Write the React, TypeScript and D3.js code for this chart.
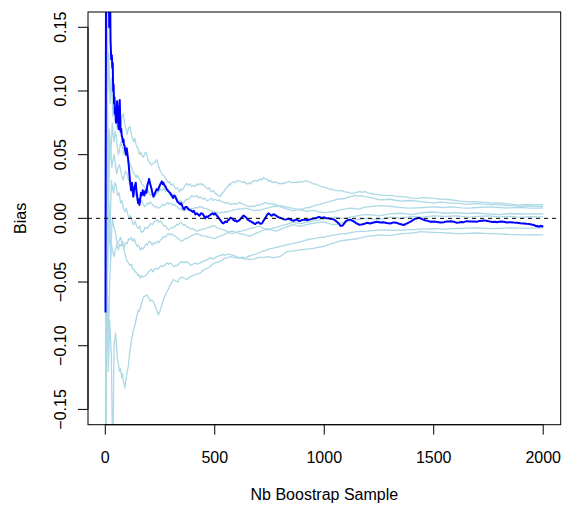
import React from "react";
import * as d3 from "d3";

// ---- data ----
const xTicks = [0, 500, 1000, 1500, 2000];
const yTicks = [-0.15, -0.1, -0.05, 0, 0.05, 0.1, 0.15];
const xLabel = "Nb Boostrap Sample";
const yLabel = "Bias";
const nRange = [1, 2000];
const yLimits = [-0.15, 0.15];

// bias path of the main estimate (dark blue)
const mainSeries: [number, number][] = [
  [1, -0.074], [2, 0.05], [4, 0.25], [14, 0.22], [18, 0.15], [21, 0.2], [24, 0.14], [27, 0.125],
  [30, 0.128], [32, 0.118], [34, 0.122], [36, 0.1], [38, 0.105], [40, 0.09], [42, 0.095], [44, 0.082],
  [46, 0.086], [48, 0.076], [50, 0.075], [52, 0.085], [54, 0.092], [56, 0.08], [58, 0.088], [60, 0.072],
  [62, 0.07], [64, 0.085], [66, 0.093], [68, 0.078], [70, 0.068], [73, 0.07], [75, 0.065], [78, 0.063],
  [80, 0.06], [83, 0.062], [85, 0.058], [88, 0.057], [90, 0.054], [93, 0.052], [95, 0.05], [98, 0.055],
  [100, 0.052], [103, 0.048], [105, 0.045], [108, 0.04], [110, 0.035], [113, 0.029], [116, 0.025],
  [118, 0.022], [120, 0.026], [122, 0.028], [125, 0.022], [128, 0.017], [130, 0.02], [133, 0.024],
  [136, 0.026], [139, 0.028], [142, 0.022], [145, 0.018], [148, 0.014], [150, 0.012], [153, 0.015],
  [156, 0.0105], [160, 0.016], [163, 0.02], [167, 0.018], [171, 0.022], [175, 0.02], [178, 0.018],
  [182, 0.021], [185, 0.022], [188, 0.02], [192, 0.026], [196, 0.028], [200, 0.031], [205, 0.027],
  [210, 0.024], [215, 0.02], [220, 0.017], [225, 0.019], [230, 0.021], [235, 0.023], [240, 0.022],
  [247, 0.025], [252, 0.027], [258, 0.029], [262, 0.027], [265, 0.028], [270, 0.026], [275, 0.025],
  [280, 0.023], [285, 0.022], [290, 0.021], [296, 0.02], [303, 0.018], [310, 0.016], [315, 0.018],
  [320, 0.017], [325, 0.015], [330, 0.013], [336, 0.012], [342, 0.011], [346, 0.012], [350, 0.0105],
  [355, 0.008], [360, 0.007], [366, 0.009], [372, 0.009], [380, 0.007], [387, 0.0065], [393, 0.006],
  [400, 0.005], [405, 0.006], [411, 0.003], [418, 0.004], [424, 0.003], [430, 0.002], [437, 0.004],
  [445, 0.0035], [450, 0.002], [456, 0.0], [462, 0.0015], [468, 0.001], [474, 0.002], [479, 0.0026],
  [485, 0.0035], [490, 0.004], [496, 0.003], [501, 0.004], [508, 0.0025], [515, 0.001], [521, -0.0005],
  [528, -0.002], [534, -0.0035], [540, -0.004], [548, -0.0025], [555, -0.003], [560, -0.0015],
  [565, -0.001], [572, 0.0005], [578, 0.0], [584, -0.001], [590, -0.002], [596, -0.0015], [601, -0.0026],
  [608, -0.002], [615, -0.001], [620, 0.0], [625, 0.001], [632, 0.0022], [639, 0.0013], [645, 0.0005],
  [650, -0.001], [660, -0.002], [670, -0.003], [677, -0.0038], [684, -0.0045], [692, -0.0035],
  [700, -0.003], [708, -0.0042], [715, -0.004], [722, -0.002], [730, 0.0], [738, 0.0025], [745, 0.004],
  [752, 0.003], [760, 0.002], [768, 0.0032], [776, 0.0026], [783, 0.0018], [790, 0.001], [798, 0.0005],
  [806, 0.0], [815, -0.0008], [825, -0.001], [835, -0.0002], [844, -0.0008], [852, -0.0015], [860, -0.002],
  [868, -0.0012], [875, -0.001], [882, -0.0018], [890, -0.002], [900, -0.0012], [910, -0.001],
  [922, -0.0015], [936, -0.0008], [948, -0.0002], [960, 0.0], [970, 0.0008], [980, 0.001], [988, 0.0002],
  [997, 0.0008], [1008, 0.0003], [1020, 0.0], [1032, -0.0005], [1043, -0.0008], [1052, -0.0018],
  [1060, -0.003], [1068, -0.0045], [1075, -0.006], [1080, -0.0058], [1085, -0.0055], [1092, -0.0038],
  [1100, -0.002], [1110, -0.0012], [1119, -0.001], [1130, -0.002], [1140, -0.003], [1150, -0.0042],
  [1160, -0.005], [1170, -0.0048], [1180, -0.0045], [1195, -0.0035], [1210, -0.004], [1225, -0.0032],
  [1241, -0.0026], [1255, -0.0032], [1270, -0.003], [1285, -0.0036], [1302, -0.004], [1316, -0.0032],
  [1330, -0.0035], [1346, -0.0045], [1363, -0.0052], [1376, -0.0042], [1390, -0.003], [1400, -0.002],
  [1408, -0.001], [1416, -0.0003], [1425, 0.0], [1432, 0.0005], [1439, 0.0], [1450, -0.0008],
  [1460, -0.0015], [1472, -0.002], [1485, -0.0026], [1500, -0.0024], [1515, -0.0028], [1530, -0.0032],
  [1546, -0.003], [1558, -0.0024], [1570, -0.0025], [1580, -0.0022], [1591, -0.0026], [1603, -0.0034],
  [1615, -0.0032], [1626, -0.0028], [1637, -0.003], [1650, -0.0022], [1665, -0.0025], [1680, -0.0024],
  [1698, -0.0026], [1710, -0.002], [1720, -0.0018], [1732, -0.0016], [1744, -0.002], [1757, -0.0025],
  [1770, -0.0028], [1780, -0.0026], [1790, -0.003], [1805, -0.0025], [1820, -0.0027], [1835, -0.0032],
  [1851, -0.003], [1865, -0.0033], [1880, -0.0035], [1895, -0.0038], [1911, -0.004], [1923, -0.0043],
  [1935, -0.0045], [1946, -0.0048], [1957, -0.0052], [1964, -0.0058], [1970, -0.0062], [1975, -0.006],
  [1980, -0.0066], [1985, -0.0062], [1990, -0.0058], [1995, -0.0064], [2000, -0.006],
];

// bootstrap replicate paths (light blue)
const repA: [number, number][] = [
  [1, 0.02], [3, 0.25], [9, 0.2], [12, 0.1], [16, 0.13], [22, 0.09], [28, 0.11], [35, 0.08], [40, 0.088],
  [45, 0.085], [50, 0.076], [55, 0.07], [60, 0.074], [65, 0.078], [70, 0.072], [76, 0.08], [82, 0.082],
  [88, 0.075], [95, 0.07], [100, 0.066], [106, 0.071], [113, 0.072], [120, 0.065], [125, 0.062],
  [130, 0.06], [135, 0.063], [140, 0.058], [145, 0.056], [150, 0.055], [156, 0.05], [162, 0.052],
  [168, 0.049], [174, 0.048], [180, 0.051], [185, 0.052], [190, 0.05], [196, 0.045], [203, 0.044],
  [210, 0.042], [218, 0.043], [226, 0.044], [235, 0.046], [240, 0.043], [247, 0.039], [255, 0.036],
  [262, 0.034], [270, 0.033], [276, 0.031], [281, 0.03], [288, 0.028], [294, 0.029], [300, 0.026],
  [308, 0.027], [315, 0.025], [322, 0.023], [330, 0.024], [338, 0.021], [345, 0.023], [350, 0.022],
  [358, 0.024], [365, 0.026], [372, 0.0275], [380, 0.026], [387, 0.027], [395, 0.025], [403, 0.026],
  [410, 0.025], [418, 0.027], [425, 0.026], [433, 0.0277], [440, 0.026], [447, 0.027], [455, 0.025],
  [460, 0.024], [468, 0.023], [475, 0.024], [480, 0.022], [488, 0.021], [495, 0.022], [500, 0.02],
  [508, 0.019], [516, 0.018], [524, 0.017], [530, 0.019], [537, 0.02], [545, 0.022], [552, 0.024],
  [560, 0.025], [565, 0.027], [570, 0.026], [578, 0.028], [585, 0.0287], [595, 0.028], [605, 0.03],
  [612, 0.029], [620, 0.029], [628, 0.028], [636, 0.029], [643, 0.027], [650, 0.027], [658, 0.028],
  [665, 0.027], [671, 0.029], [677, 0.029], [685, 0.03], [692, 0.029], [700, 0.03], [707, 0.031],
  [715, 0.03], [722, 0.032], [730, 0.031], [738, 0.031], [746, 0.029], [754, 0.03], [762, 0.028],
  [770, 0.029], [778, 0.028], [786, 0.0285], [793, 0.027], [799, 0.0275], [807, 0.027], [814, 0.028],
  [821, 0.0275], [830, 0.0285], [840, 0.029], [850, 0.028], [860, 0.028], [870, 0.0285], [880, 0.028],
  [890, 0.029], [900, 0.0285], [913, 0.0295], [926, 0.029], [940, 0.028], [950, 0.027], [962, 0.0268],
  [973, 0.026], [985, 0.025], [998, 0.0245], [1010, 0.024], [1020, 0.023], [1035, 0.023], [1050, 0.022],
  [1065, 0.0215], [1078, 0.022], [1090, 0.021], [1103, 0.0205], [1115, 0.02], [1127, 0.0196],
  [1140, 0.02], [1150, 0.0205], [1160, 0.021], [1175, 0.0205], [1187, 0.021], [1200, 0.02],
  [1215, 0.0195], [1230, 0.019], [1245, 0.0188], [1260, 0.0182], [1279, 0.018], [1295, 0.0178],
  [1308, 0.018], [1320, 0.0175], [1338, 0.0172], [1355, 0.017], [1372, 0.0168], [1390, 0.016],
  [1410, 0.0158], [1430, 0.0157], [1450, 0.0162], [1470, 0.016], [1490, 0.0158], [1507, 0.0157],
  [1525, 0.0152], [1545, 0.015], [1565, 0.0148], [1584, 0.0144], [1602, 0.014], [1620, 0.0135],
  [1640, 0.0133], [1660, 0.013], [1680, 0.0132], [1700, 0.013], [1720, 0.0127], [1740, 0.0125],
  [1758, 0.0122], [1775, 0.012], [1795, 0.0121], [1812, 0.0118], [1830, 0.0115], [1850, 0.0112],
  [1870, 0.0108], [1889, 0.0104], [1910, 0.0108], [1930, 0.011], [1945, 0.0107], [1960, 0.0105],
  [1980, 0.0108], [2000, 0.011],
];
const repB: [number, number][] = [
  [1, 0], [2, -0.2], [5, 0.06], [8, 0.16], [12, 0.03], [18, 0.07], [25, 0.05], [32, 0.075], [36, 0.065],
  [40, 0.06], [45, 0.068], [50, 0.065], [55, 0.056], [60, 0.05], [65, 0.054], [70, 0.06], [75, 0.057],
  [80, 0.055], [85, 0.05], [90, 0.053], [95, 0.049], [100, 0.05], [106, 0.046], [112, 0.043], [120, 0.04],
  [126, 0.037], [133, 0.035], [140, 0.032], [146, 0.034], [153, 0.031], [160, 0.03], [166, 0.027],
  [173, 0.026], [180, 0.024], [186, 0.022], [193, 0.023], [200, 0.02], [208, 0.018], [215, 0.019],
  [223, 0.017], [230, 0.018], [238, 0.02], [245, 0.021], [252, 0.023], [260, 0.022], [268, 0.024],
  [275, 0.021], [282, 0.022], [290, 0.02], [298, 0.018], [305, 0.019], [312, 0.017], [320, 0.016],
  [328, 0.015], [335, 0.013], [342, 0.014], [350, 0.013], [358, 0.012], [365, 0.014], [372, 0.015],
  [380, 0.015], [388, 0.016], [395, 0.018], [403, 0.017], [410, 0.017], [418, 0.018], [425, 0.016],
  [432, 0.017], [440, 0.016], [448, 0.015], [455, 0.016], [462, 0.014], [470, 0.014], [478, 0.015],
  [485, 0.016], [492, 0.014], [500, 0.015], [510, 0.014], [520, 0.0145], [530, 0.013], [540, 0.013],
  [550, 0.012], [560, 0.0125], [570, 0.011], [580, 0.011], [590, 0.0118], [600, 0.011], [610, 0.0125],
  [620, 0.012], [630, 0.011], [640, 0.0105], [650, 0.0095], [660, 0.009], [670, 0.0098], [680, 0.0092],
  [690, 0.0105], [700, 0.01], [710, 0.011], [720, 0.0115], [730, 0.0125], [740, 0.012], [750, 0.0112],
  [760, 0.0118], [770, 0.0108], [780, 0.011], [790, 0.0098], [800, 0.009], [810, 0.0085], [820, 0.008],
  [830, 0.0072], [840, 0.007], [850, 0.0062], [860, 0.006], [870, 0.0065], [880, 0.0068], [890, 0.0075],
  [900, 0.007], [910, 0.0078], [920, 0.0085], [930, 0.0082], [940, 0.009], [950, 0.0095], [960, 0.0102],
  [970, 0.0105], [980, 0.011], [990, 0.0118], [1000, 0.012], [1010, 0.0125], [1020, 0.013],
  [1030, 0.0135], [1040, 0.014], [1050, 0.0145], [1060, 0.015], [1075, 0.0155], [1088, 0.0152],
  [1100, 0.016], [1115, 0.0168], [1128, 0.0172], [1140, 0.018], [1155, 0.0175], [1168, 0.0178],
  [1180, 0.017], [1195, 0.0168], [1208, 0.0165], [1220, 0.016], [1240, 0.015], [1260, 0.0145],
  [1280, 0.0148], [1300, 0.015], [1325, 0.0142], [1350, 0.0135], [1375, 0.0138], [1400, 0.014],
  [1425, 0.0135], [1450, 0.013], [1475, 0.0125], [1500, 0.012], [1525, 0.0127], [1550, 0.0125],
  [1575, 0.012], [1600, 0.012], [1625, 0.0115], [1650, 0.011], [1675, 0.0113], [1700, 0.0115],
  [1725, 0.0112], [1750, 0.011], [1775, 0.0107], [1800, 0.0105], [1825, 0.0103], [1850, 0.01],
  [1875, 0.0098], [1900, 0.0095], [1925, 0.0098], [1950, 0.0097], [1975, 0.0094], [2000, 0.0095],
];
const repC: [number, number][] = [
  [1, 0], [3, 0.12], [6, -0.08], [10, 0.09], [15, 0.02], [22, 0.06], [30, 0.04], [35, 0.046], [40, 0.05],
  [46, 0.042], [52, 0.035], [58, 0.04], [65, 0.042], [72, 0.036], [80, 0.03], [86, 0.033], [93, 0.037],
  [100, 0.035], [106, 0.03], [113, 0.028], [120, 0.025], [127, 0.021], [133, 0.02], [140, 0.018],
  [147, 0.015], [153, 0.013], [160, 0.012], [166, 0.014], [173, 0.011], [180, 0.009], [185, 0.01],
  [192, 0.012], [198, 0.011], [205, 0.013], [210, 0.012], [218, 0.01], [225, 0.009], [232, 0.0095],
  [240, 0.008], [248, 0.0085], [255, 0.0092], [262, 0.011], [270, 0.01], [278, 0.0115], [285, 0.0125],
  [292, 0.011], [300, 0.012], [308, 0.0105], [315, 0.011], [322, 0.0095], [330, 0.009], [338, 0.0072],
  [345, 0.0075], [352, 0.0062], [360, 0.006], [368, 0.0068], [375, 0.0075], [382, 0.007], [390, 0.0078],
  [400, 0.0075], [410, 0.0085], [420, 0.0082], [430, 0.0092], [440, 0.009], [450, 0.008], [460, 0.0078],
  [470, 0.0068], [480, 0.006], [490, 0.0055], [500, 0.005], [510, 0.0045], [520, 0.004], [530, 0.0048],
  [540, 0.0045], [550, 0.0052], [560, 0.005], [570, 0.0058], [580, 0.006], [590, 0.0068], [600, 0.007],
  [612, 0.0075], [625, 0.0072], [640, 0.008], [652, 0.0075], [665, 0.0068], [680, 0.006], [692, 0.0065],
  [705, 0.0062], [720, 0.007], [732, 0.0078], [745, 0.0082], [760, 0.009], [772, 0.0095], [785, 0.0092],
  [800, 0.01], [812, 0.0095], [826, 0.009], [840, 0.0085], [853, 0.008], [866, 0.0075], [880, 0.007],
  [893, 0.0065], [906, 0.006], [920, 0.0055], [933, 0.0058], [946, 0.0062], [960, 0.006], [973, 0.0052],
  [986, 0.0048], [1000, 0.0045], [1015, 0.0047], [1028, 0.0052], [1040, 0.005], [1055, 0.0058],
  [1068, 0.0065], [1080, 0.007], [1095, 0.0072], [1108, 0.0078], [1120, 0.008], [1135, 0.0078],
  [1148, 0.0072], [1160, 0.0075], [1175, 0.0082], [1188, 0.0088], [1200, 0.009], [1225, 0.0095],
  [1250, 0.01], [1275, 0.0098], [1300, 0.0095], [1325, 0.009], [1350, 0.0085], [1375, 0.0082],
  [1400, 0.008], [1425, 0.0083], [1450, 0.0085], [1475, 0.0088], [1500, 0.009], [1525, 0.0087],
  [1550, 0.0085], [1575, 0.009], [1600, 0.0088], [1625, 0.0083], [1650, 0.008], [1675, 0.0082],
  [1700, 0.0085], [1725, 0.0088], [1750, 0.009], [1775, 0.0087], [1800, 0.0085], [1825, 0.0083],
  [1850, 0.0082], [1875, 0.0084], [1900, 0.0085], [1925, 0.0082], [1950, 0.008], [1975, 0.0081],
  [2000, 0.0082],
];
const repD: [number, number][] = [
  [1, 0], [2, 0.22], [5, 0.03], [9, -0.06], [14, 0.04], [20, -0.02], [28, 0.03], [33, 0.024], [38, 0.02],
  [44, 0.028], [50, 0.025], [56, 0.018], [63, 0.02], [70, 0.012], [76, 0.014], [83, 0.008], [90, 0.005],
  [96, 0.008], [103, 0.003], [110, 0.0], [116, 0.002], [123, -0.003], [130, -0.005], [136, -0.002],
  [143, -0.006], [150, -0.008], [157, -0.006], [165, -0.011], [175, -0.01], [182, -0.007], [190, -0.008],
  [200, -0.006], [208, -0.004], [215, -0.005], [222, -0.003], [230, -0.002], [238, -0.001], [245, -0.003],
  [252, -0.002], [260, -0.004], [268, -0.006], [275, -0.0055], [282, -0.008], [290, -0.009], [298, -0.008],
  [305, -0.007], [312, -0.0075], [320, -0.006], [328, -0.0045], [335, -0.005], [342, -0.003], [350, -0.004],
  [358, -0.0055], [365, -0.005], [372, -0.0068], [380, -0.007], [390, -0.0085], [400, -0.008],
  [410, -0.0095], [420, -0.01], [430, -0.0092], [440, -0.0088], [450, -0.0082], [460, -0.008],
  [470, -0.007], [480, -0.0068], [490, -0.0058], [500, -0.006], [510, -0.0072], [520, -0.0078],
  [530, -0.0085], [540, -0.009], [550, -0.0098], [560, -0.0105], [570, -0.0115], [580, -0.012],
  [590, -0.0112], [600, -0.0108], [610, -0.0102], [620, -0.01], [632, -0.0095], [645, -0.009],
  [660, -0.008], [672, -0.0075], [685, -0.007], [700, -0.006], [712, -0.0068], [725, -0.008],
  [740, -0.009], [752, -0.0085], [765, -0.0078], [780, -0.007], [792, -0.0065], [805, -0.0058],
  [820, -0.005], [832, -0.0045], [845, -0.0038], [860, -0.003], [873, -0.0035], [886, -0.0042],
  [900, -0.004], [915, -0.0032], [930, -0.0028], [950, -0.002], [965, -0.0018], [980, -0.0012],
  [1000, -0.001], [1015, -0.0003], [1030, 0.0002], [1050, 0.001], [1065, 0.0006], [1080, 0.0002],
  [1100, 0.0], [1115, 0.0008], [1130, 0.0012], [1150, 0.002], [1165, 0.0025], [1180, 0.0028],
  [1200, 0.003], [1225, 0.0025], [1250, 0.002], [1275, 0.0028], [1300, 0.0035], [1325, 0.0038],
  [1350, 0.004], [1375, 0.0035], [1400, 0.003], [1425, 0.0038], [1450, 0.0045], [1475, 0.0048],
  [1500, 0.005], [1525, 0.0045], [1550, 0.004], [1575, 0.0042], [1600, 0.0045], [1625, 0.0042],
  [1650, 0.0038], [1675, 0.004], [1700, 0.0042], [1725, 0.0038], [1750, 0.0035], [1775, 0.0032],
  [1800, 0.003], [1825, 0.0034], [1850, 0.0038], [1875, 0.0036], [1900, 0.0034], [1925, 0.0035],
  [1950, 0.0036], [1975, 0.0034], [2000, 0.0035],
];
const repE: [number, number][] = [
  [1, 0], [4, -0.22], [7, 0.08], [11, -0.04], [16, 0.01], [24, -0.03], [32, 0.0], [38, -0.006], [45, -0.01],
  [52, -0.018], [60, -0.025], [66, -0.02], [73, -0.022], [80, -0.018], [86, -0.023], [93, -0.019],
  [100, -0.02], [106, -0.016], [113, -0.017], [120, -0.015], [126, -0.018], [133, -0.016], [140, -0.02],
  [146, -0.022], [153, -0.021], [160, -0.025], [166, -0.023], [173, -0.024], [180, -0.022], [186, -0.02],
  [193, -0.021], [200, -0.018], [208, -0.019], [215, -0.021], [222, -0.019], [230, -0.02], [238, -0.018],
  [245, -0.019], [252, -0.017], [260, -0.016], [268, -0.014], [275, -0.015], [282, -0.013], [290, -0.012],
  [298, -0.013], [305, -0.012], [312, -0.0135], [320, -0.014], [328, -0.0155], [335, -0.016],
  [342, -0.0172], [350, -0.018], [358, -0.017], [365, -0.0158], [372, -0.016], [380, -0.015],
  [390, -0.014], [400, -0.0132], [410, -0.0125], [420, -0.012], [430, -0.0128], [440, -0.0135],
  [450, -0.0138], [460, -0.014], [470, -0.0148], [480, -0.015], [490, -0.0155], [500, -0.016],
  [510, -0.015], [520, -0.0142], [530, -0.0135], [540, -0.013], [550, -0.0122], [560, -0.0112],
  [570, -0.0105], [580, -0.01], [590, -0.0108], [600, -0.0112], [610, -0.0118], [620, -0.012],
  [632, -0.0128], [645, -0.0132], [660, -0.014], [672, -0.0132], [685, -0.012], [700, -0.011],
  [712, -0.0098], [725, -0.009], [740, -0.008], [752, -0.0088], [765, -0.0095], [780, -0.01],
  [792, -0.0092], [805, -0.0082], [820, -0.007], [832, -0.0065], [845, -0.0058], [860, -0.005],
  [873, -0.0055], [886, -0.0062], [900, -0.006], [915, -0.0052], [930, -0.0045], [950, -0.004],
  [965, -0.0036], [980, -0.0032], [1000, -0.003], [1015, -0.0038], [1030, -0.0045], [1050, -0.005],
  [1065, -0.0042], [1080, -0.0035], [1100, -0.003], [1115, -0.0022], [1130, -0.0015], [1150, -0.001],
  [1165, -0.0005], [1180, -0.0002], [1200, 0.0], [1225, -0.0006], [1250, -0.001], [1275, 0.0],
  [1300, 0.001], [1325, 0.0005], [1350, 0.0], [1375, 0.0008], [1400, 0.0015], [1425, 0.0012],
  [1450, 0.001], [1475, 0.0015], [1500, 0.002], [1525, 0.0018], [1550, 0.0015], [1575, 0.0018],
  [1600, 0.002], [1625, 0.0015], [1650, 0.001], [1675, 0.0012], [1700, 0.0015], [1725, 0.0018],
  [1750, 0.002], [1775, 0.0016], [1800, 0.0012], [1825, 0.0014], [1850, 0.0015], [1875, 0.0012],
  [1900, 0.001], [1925, 0.0012], [1950, 0.0013], [1975, 0.0011], [2000, 0.0012],
];
const repG: [number, number][] = [
  [1, 0], [3, -0.25], [6, -0.1], [10, -0.06], [15, -0.09], [20, -0.05], [28, -0.02], [34, -0.026],
  [40, -0.03], [47, -0.024], [55, -0.02], [62, -0.018], [70, -0.015], [76, -0.019], [82, -0.022],
  [90, -0.028], [98, -0.033], [105, -0.035], [113, -0.037], [120, -0.036], [126, -0.04], [130, -0.04],
  [137, -0.042], [144, -0.043], [150, -0.045], [155, -0.044], [160, -0.047], [167, -0.045], [174, -0.046],
  [182, -0.045], [190, -0.044], [197, -0.042], [204, -0.041], [212, -0.04], [218, -0.042], [225, -0.04],
  [232, -0.039], [240, -0.04], [250, -0.038], [258, -0.037], [266, -0.038], [275, -0.036], [282, -0.035],
  [290, -0.036], [296, -0.035], [305, -0.036], [313, -0.038], [322, -0.037], [330, -0.037], [340, -0.035],
  [350, -0.034], [360, -0.035], [370, -0.034], [380, -0.035], [390, -0.037], [400, -0.036], [410, -0.035],
  [420, -0.036], [434, -0.035], [445, -0.034], [458, -0.033], [470, -0.032], [480, -0.031], [490, -0.032],
  [500, -0.031], [512, -0.03], [525, -0.029], [535, -0.0285], [548, -0.029], [560, -0.028], [572, -0.0285],
  [585, -0.029], [600, -0.03], [612, -0.031], [625, -0.0305], [640, -0.031], [652, -0.03], [665, -0.029],
  [678, -0.0285], [690, -0.028], [702, -0.027], [715, -0.026], [726, -0.0255], [738, -0.025],
  [750, -0.024], [762, -0.0235], [775, -0.023], [788, -0.0225], [800, -0.022], [812, -0.0215],
  [825, -0.021], [838, -0.0205], [850, -0.02], [862, -0.0195], [875, -0.019], [888, -0.0185],
  [900, -0.018], [912, -0.0172], [925, -0.0168], [938, -0.0162], [950, -0.016], [963, -0.0155],
  [975, -0.0152], [988, -0.0148], [1000, -0.015], [1013, -0.0142], [1025, -0.0138], [1038, -0.0132],
  [1050, -0.013], [1063, -0.0125], [1075, -0.0122], [1088, -0.012], [1100, -0.012], [1125, -0.011],
  [1150, -0.0105], [1175, -0.0102], [1200, -0.01], [1230, -0.0095], [1260, -0.009], [1290, -0.0092],
  [1320, -0.0095], [1350, -0.0092], [1380, -0.009], [1410, -0.0088], [1440, -0.0085], [1470, -0.0082],
  [1500, -0.008], [1530, -0.0083], [1560, -0.0085], [1590, -0.008], [1620, -0.0078], [1660, -0.0076],
  [1700, -0.0075], [1740, -0.0078], [1780, -0.008], [1815, -0.0077], [1850, -0.0075], [1885, -0.0076],
  [1920, -0.0078], [1960, -0.0076], [2000, -0.0075],
];
const repH: [number, number][] = [
  [1, 0], [4, 0.1], [8, -0.05], [14, -0.12], [20, -0.08], [28, -0.11], [34, -0.2], [40, -0.1], [47, -0.09],
  [55, -0.11], [60, -0.115], [65, -0.12], [70, -0.118], [75, -0.125], [79, -0.122], [82, -0.128],
  [86, -0.13], [90, -0.133], [93, -0.128], [96, -0.125], [100, -0.12], [103, -0.118], [106, -0.115],
  [110, -0.108], [113, -0.103], [116, -0.1], [120, -0.095], [124, -0.092], [128, -0.088], [134, -0.085],
  [140, -0.08], [145, -0.076], [150, -0.072], [155, -0.073], [160, -0.07], [167, -0.066], [174, -0.062],
  [182, -0.061], [190, -0.06], [197, -0.062], [205, -0.065], [212, -0.064], [219, -0.065], [227, -0.069],
  [235, -0.072], [243, -0.076], [249, -0.073], [255, -0.07], [262, -0.066], [270, -0.062], [280, -0.058],
  [290, -0.055], [300, -0.051], [311, -0.048], [320, -0.049], [330, -0.05], [340, -0.047], [350, -0.046],
  [360, -0.047], [372, -0.048], [385, -0.046], [400, -0.045], [415, -0.044], [433, -0.043], [445, -0.041],
  [455, -0.04], [467, -0.039], [479, -0.038], [490, -0.036], [500, -0.035], [510, -0.0345], [520, -0.034],
  [532, -0.033], [545, -0.0315], [558, -0.031], [570, -0.03], [582, -0.0305], [595, -0.0308],
  [608, -0.0312], [620, -0.031], [635, -0.0318], [650, -0.032], [665, -0.0322], [680, -0.032],
  [695, -0.031], [710, -0.0305], [724, -0.0308], [738, -0.03], [752, -0.0302], [766, -0.031],
  [780, -0.0305], [799, -0.03], [814, -0.028], [830, -0.026], [845, -0.0258], [860, -0.0255],
  [880, -0.025], [900, -0.0245], [915, -0.0242], [930, -0.024], [951, -0.0236], [965, -0.023],
  [980, -0.0225], [1000, -0.022], [1015, -0.021], [1030, -0.02], [1050, -0.019], [1065, -0.0182],
  [1080, -0.0175], [1104, -0.017], [1125, -0.0165], [1150, -0.016], [1175, -0.015], [1200, -0.014],
  [1228, -0.0135], [1256, -0.013], [1280, -0.0133], [1300, -0.0135], [1325, -0.0128], [1350, -0.012],
  [1375, -0.0118], [1400, -0.0115], [1420, -0.011], [1439, -0.0105], [1470, -0.0108], [1500, -0.011],
  [1530, -0.0112], [1560, -0.0115], [1590, -0.0118], [1620, -0.012], [1660, -0.0118], [1700, -0.0115],
  [1730, -0.0118], [1760, -0.012], [1795, -0.0122], [1830, -0.0125], [1865, -0.0128], [1900, -0.013],
  [1930, -0.0129], [1960, -0.0128], [1980, -0.0129], [2000, -0.013],
];
const replicates = [repA, repB, repC, repD, repE, repG, repH];

// ---- layout ----
const W = 562;
const H = 507;
const plotLeft = 88;
const plotRight = 560.7;
const plotTop = 12;
const plotBottom = 424.7;
const FONT = "'Liberation Sans', Arial, Helvetica, sans-serif";

export default function App() {
  const xPad = (nRange[1] - nRange[0]) * 0.04;
  const yPad = (yLimits[1] - yLimits[0]) * 0.04;
  const x = d3.scaleLinear().domain([nRange[0] - xPad, nRange[1] + xPad]).range([plotLeft, plotRight]);
  const y = d3.scaleLinear().domain([yLimits[0] - yPad, yLimits[1] + yPad]).range([plotBottom, plotTop]);
  const line = d3.line<[number, number]>().x((d) => x(d[0])).y((d) => y(d[1]));
  const fmtY = (v: number) => {
    const s = Math.abs(v).toFixed(2);
    return v < -1e-9 ? "\u2212" + s : s;
  };
  const tick = 10;

  return (
    <svg width={W} height={H} style={{ position: "absolute", left: 0, top: 0, background: "#fff" }} fontFamily={FONT}>
      <defs>
        <clipPath id="plotClip">
          <rect x={plotLeft} y={plotTop} width={plotRight - plotLeft} height={plotBottom - plotTop} />
        </clipPath>
      </defs>
      <rect x={0} y={0} width={W} height={H} fill="#fff" />
      <g clipPath="url(#plotClip)">
        {replicates.map((s, i) => (
          <path key={i} d={line(s) || ""} fill="none" stroke="#ADD8E6" strokeWidth={1.3} strokeLinejoin="round" />
        ))}
        <path d={line(mainSeries) || ""} fill="none" stroke="#0000FF" strokeWidth={2} strokeLinejoin="round" />
        <line x1={plotLeft} x2={plotRight} y1={y(0)} y2={y(0)} stroke="#000" strokeWidth={1} strokeDasharray="4,4" />
      </g>
      {/* box */}
      <rect x={plotLeft} y={plotTop} width={plotRight - plotLeft} height={plotBottom - plotTop} fill="none" stroke="#000" strokeWidth={1} />
      {/* x axis */}
      <line x1={x(xTicks[0])} x2={x(xTicks[xTicks.length - 1])} y1={plotBottom} y2={plotBottom} stroke="#000" />
      {xTicks.map((t) => (
        <g key={t}>
          <line x1={x(t)} x2={x(t)} y1={plotBottom} y2={plotBottom + tick} stroke="#000" />
          <text x={x(t)} y={463} textAnchor="middle" fontSize={16} fill="#000">
            {t}
          </text>
        </g>
      ))}
      {/* y axis */}
      <line x1={plotLeft} x2={plotLeft} y1={y(yTicks[0])} y2={y(yTicks[yTicks.length - 1])} stroke="#000" />
      {yTicks.map((t) => (
        <g key={t}>
          <line x1={plotLeft - tick} x2={plotLeft} y1={y(t)} y2={y(t)} stroke="#000" />
          <text transform={`translate(66,${y(t)}) rotate(-90)`} textAnchor="middle" fontSize={16} fill="#000">
            {fmtY(t)}
          </text>
        </g>
      ))}
      <text x={(plotLeft + plotRight) / 2} y={500} textAnchor="middle" fontSize={16} fill="#000">
        {xLabel}
      </text>
      <text transform={`translate(26,${(plotTop + plotBottom) / 2}) rotate(-90)`} textAnchor="middle" fontSize={16} fill="#000">
        {yLabel}
      </text>
    </svg>
  );
}
